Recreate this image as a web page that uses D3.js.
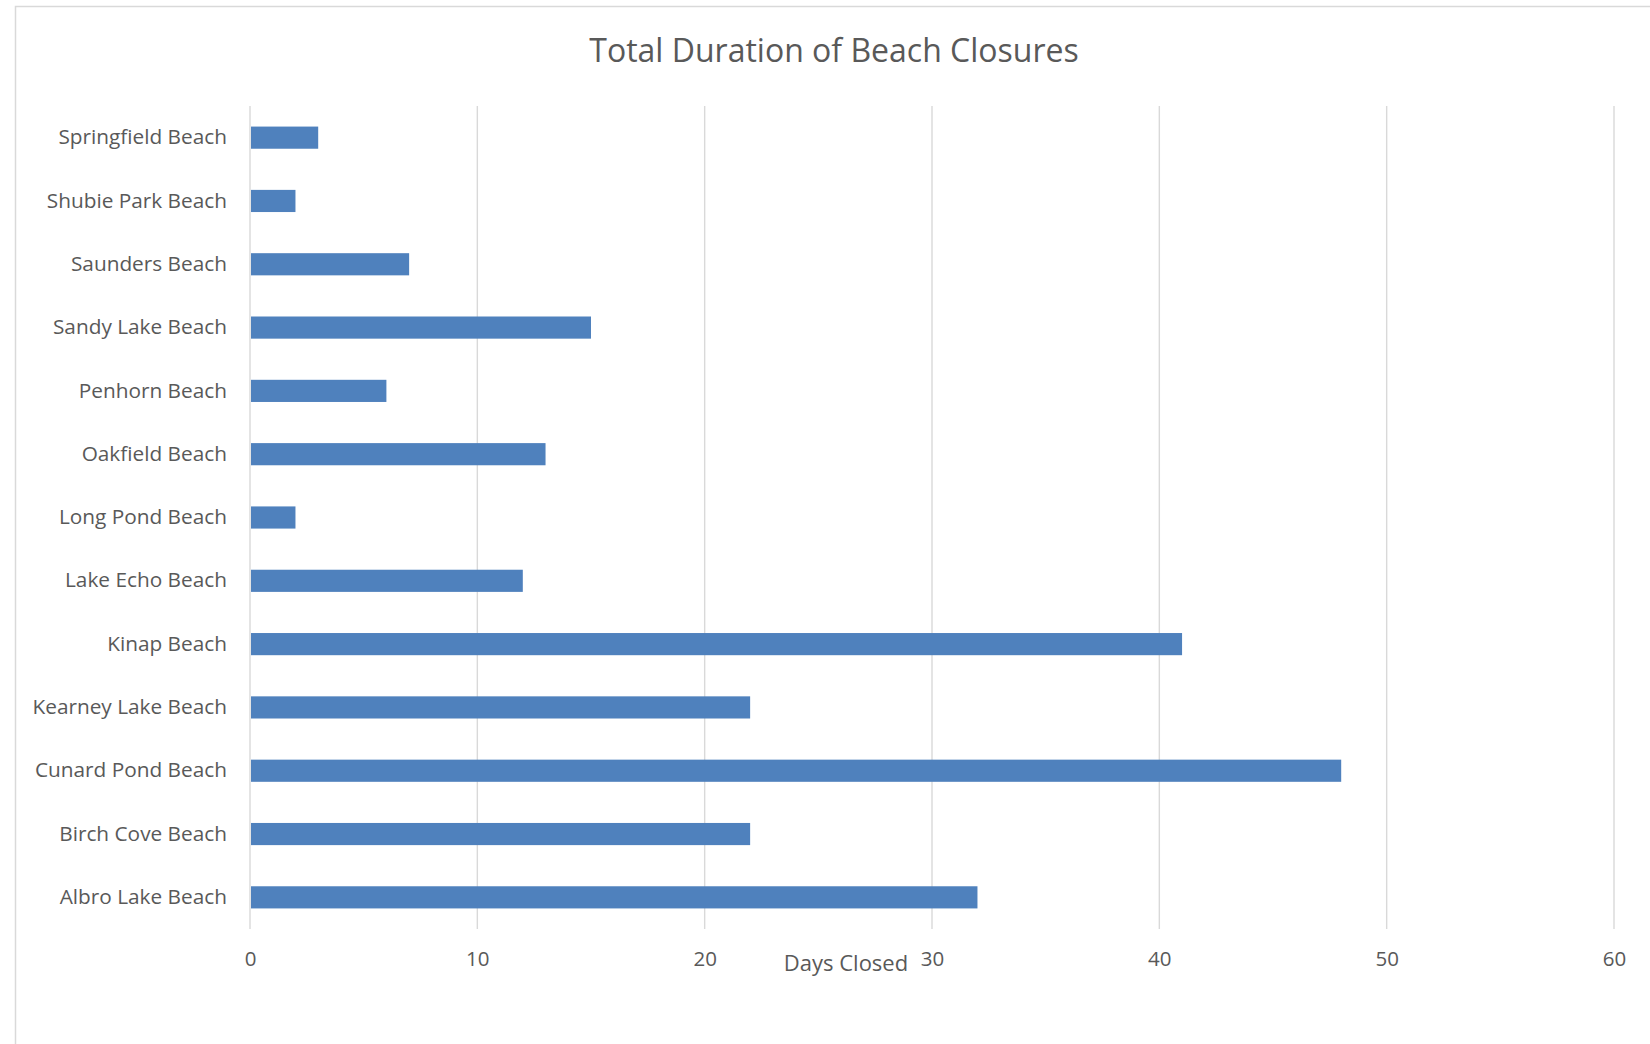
<!DOCTYPE html>
<html><head><meta charset="utf-8">
<script src="https://cdn.jsdelivr.net/npm/d3@7"></script>
<style>html,body{margin:0;padding:0;background:#fff;}svg{display:block;}</style>
</head><body>
<script>
const categories = ["Springfield Beach","Shubie Park Beach","Saunders Beach","Sandy Lake Beach","Penhorn Beach","Oakfield Beach","Long Pond Beach","Lake Echo Beach","Kinap Beach","Kearney Lake Beach","Cunard Pond Beach","Birch Cove Beach","Albro Lake Beach"];
const daysClosed = [3,2,7,15,6,13,2,12,41,22,48,22,32];
const xTicks = [0,10,20,30,40,50,60];
const chartTitle = "Total Duration of Beach Closures";
const xAxisTitle = "Days Closed";

(function () {
const W = 1650, H = 1044;
const font = "'Open Sans', 'Noto Sans', sans-serif";
const textColor = "#595959";
const gridColor = "#d9d9d9";

const svg = d3.select("body").append("svg").attr("width", W).attr("height", H);

// chart frame (partly cropped)
svg.append("rect").attr("x", 15.5).attr("y", 6.5).attr("width", 1800).attr("height", 1200)
  .attr("fill", "none").attr("stroke", gridColor).attr("stroke-width", 1.5);

const pL = 250, pR = 1614, pT = 106, pB = 929;
const x = d3.scaleLinear().domain([0, 60]).range([pL, pR]);
const y = d3.scaleBand().domain(categories).range([pT, pB]).paddingInner(0.65).paddingOuter(0.325);

// gridlines
svg.append("g").selectAll("line").data(xTicks).join("line")
  .attr("x1", d => x(d)).attr("x2", d => x(d))
  .attr("y1", pT).attr("y2", pB)
  .attr("stroke", gridColor).attr("stroke-width", 1.4);

// bars
svg.append("g").selectAll("rect").data(categories).join("rect")
  .attr("x", x(0) + 1)
  .attr("y", d => y(d))
  .attr("width", (d, i) => x(daysClosed[i]) - x(0) - 1)
  .attr("height", y.bandwidth())
  .attr("fill", "#4f81bd");

// x axis labels
const xAxis = d3.axisBottom(x).tickValues(xTicks).tickSize(0).tickPadding(0);
const gx = svg.append("g").attr("transform", `translate(0, ${pB + 22})`).call(xAxis);
gx.select(".domain").remove();
gx.selectAll("text").attr("font-family", font).attr("font-size", 20.5).attr("fill", textColor);

// y axis labels
const yAxis = d3.axisLeft(y).tickSize(0).tickPadding(0);
const gy = svg.append("g").attr("transform", `translate(${pL - 23}, 0)`).call(yAxis);
gy.select(".domain").remove();
gy.selectAll("text").attr("font-family", font).attr("font-size", 20.8).attr("fill", textColor);

// title
svg.append("text").attr("x", 834).attr("y", 62).attr("text-anchor", "middle")
  .attr("font-family", font).attr("font-size", 32).attr("fill", textColor).text(chartTitle);

// axis title
svg.append("text").attr("x", 846).attr("y", 971).attr("text-anchor", "middle")
  .attr("font-family", font).attr("font-size", 22).attr("fill", textColor).text(xAxisTitle);
})();
</script>
</body></html>
